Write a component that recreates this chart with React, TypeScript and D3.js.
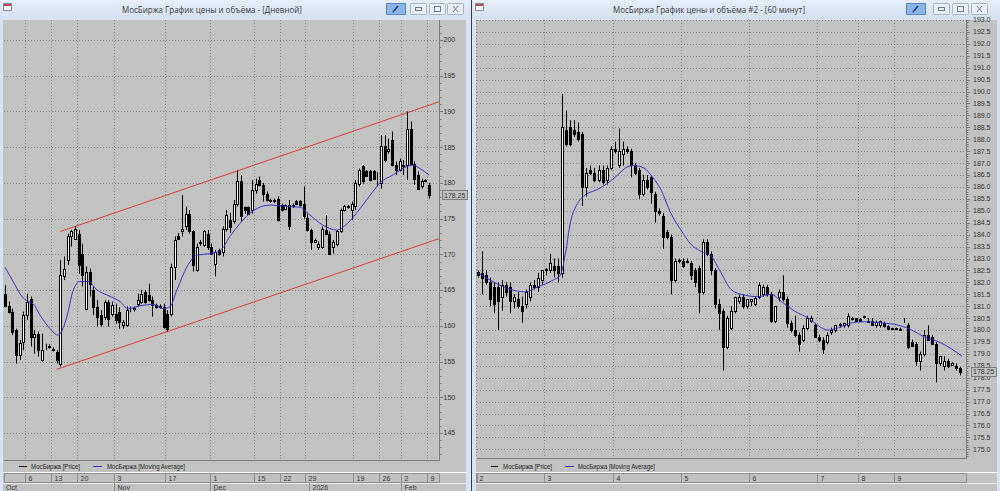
import React from 'react';
import * as d3 from 'd3';

type OHLC = [number, number, number, number];

const leftTitle = 'МосБиржа График цены и объёма - [Дневной]';
const rightTitle = 'МосБиржа График цены и объёма #2 - [60 минут]';
const legendPrice = 'МосБиржа [Price]';
const legendMA = 'МосБиржа [Moving Average]';
const lastPrice = 178.25;
const lastPriceLabel = '178.25';

// Daily candles [open, high, low, close]
const dailyCandles: OHLC[] = [
  [164.4, 165.7, 162.6, 162.8], [162.8, 163.4, 161.7, 162.0], [162.0, 162.4, 158.7, 159.2], [159.4, 159.6, 154.7, 155.9],
  [155.9, 158.0, 155.2, 157.6], [157.8, 162.0, 156.6, 161.5], [161.5, 164.5, 160.8, 163.4], [163.8, 164.1, 157.1, 158.5],
  [158.5, 159.4, 156.1, 158.9], [158.9, 159.2, 155.7, 156.6], [155.2, 158.9, 155.0, 156.6], [157.0, 157.5, 156.6, 157.1],
  [157.0, 157.4, 156.8, 157.2], [156.8, 157.0, 156.4, 156.6], [156.4, 156.6, 154.7, 155.2], [154.7, 169.2, 154.3, 167.1],
  [167.0, 169.7, 166.4, 167.9], [169.2, 172.9, 168.5, 172.5], [172.5, 173.4, 171.1, 173.2], [172.2, 173.9, 172.0, 173.5],
  [172.9, 173.4, 167.3, 168.5], [170.1, 171.5, 165.5, 167.1], [162.4, 168.3, 162.2, 167.6], [167.6, 168.0, 164.1, 165.9],
  [165.0, 165.5, 161.5, 162.7], [162.7, 163.6, 159.9, 161.3], [161.5, 162.2, 159.9, 160.3], [161.3, 163.6, 160.8, 163.4],
  [163.4, 163.6, 159.9, 161.0], [161.7, 163.4, 161.3, 162.9], [161.7, 163.1, 160.3, 160.8], [162.0, 162.6, 159.6, 160.6],
  [160.1, 160.8, 159.6, 160.6], [160.1, 162.7, 159.9, 162.2], [162.3, 162.7, 161.9, 162.4], [162.3, 162.7, 162.0, 162.5],
  [163.1, 164.5, 162.7, 163.6], [163.4, 165.0, 163.1, 164.5], [164.8, 165.0, 163.1, 163.4], [164.3, 165.9, 163.4, 163.6],
  [163.6, 164.1, 161.3, 162.9], [162.9, 163.1, 162.4, 162.7], [162.8, 163.0, 162.4, 162.6], [162.7, 163.1, 159.6, 159.9],
  [161.7, 162.2, 159.2, 159.6], [161.7, 168.7, 161.3, 168.3], [168.3, 172.5, 166.4, 172.0], [172.5, 173.0, 172.0, 172.2],
  [173.2, 178.3, 172.5, 173.6], [173.9, 176.7, 173.4, 175.7], [175.7, 176.2, 172.9, 173.2], [173.2, 173.4, 167.6, 168.5],
  [167.8, 171.5, 167.6, 171.1], [171.6, 172.0, 171.2, 171.8], [171.3, 173.4, 171.1, 173.2], [172.9, 173.4, 170.6, 171.1],
  [171.1, 171.5, 169.9, 170.1], [168.7, 170.6, 166.9, 170.4], [170.6, 170.8, 169.8, 170.1], [170.4, 173.9, 169.7, 173.6],
  [173.6, 176.2, 173.2, 175.5], [174.8, 175.8, 173.0, 173.8], [174.6, 177.6, 174.3, 177.1], [177.1, 181.8, 176.7, 180.2],
  [180.2, 181.1, 174.6, 175.3], [176.6, 176.7, 175.7, 176.2], [176.6, 176.7, 175.5, 175.7], [176.2, 180.4, 175.7, 179.0],
  [179.0, 180.6, 178.5, 179.9], [180.4, 180.9, 179.5, 179.7], [179.7, 180.0, 177.4, 178.5], [178.5, 178.8, 177.4, 177.6],
  [177.6, 177.8, 177.2, 177.4], [177.6, 177.8, 177.2, 177.4], [177.8, 178.1, 174.6, 174.8], [176.9, 177.1, 176.0, 176.2],
  [176.4, 177.0, 176.2, 176.9], [176.9, 177.6, 173.4, 173.9], [176.9, 177.1, 176.5, 176.7], [177.4, 177.6, 177.0, 177.1],
  [177.4, 177.6, 176.7, 176.9], [177.1, 179.5, 175.0, 175.3], [175.1, 175.7, 173.2, 173.4], [173.4, 173.6, 170.6, 171.8],
  [171.8, 172.2, 171.6, 172.0], [171.1, 171.8, 170.6, 171.5], [171.1, 173.9, 170.8, 173.6], [173.4, 175.5, 172.7, 172.9],
  [172.9, 173.2, 169.9, 170.1], [171.1, 172.0, 170.1, 171.8], [171.5, 173.4, 171.1, 173.2], [173.2, 176.4, 173.0, 176.2],
  [176.2, 176.9, 176.0, 176.7], [176.6, 176.9, 176.4, 176.8], [176.2, 177.4, 174.8, 177.1], [176.7, 180.4, 176.2, 180.0],
  [179.9, 182.0, 179.5, 181.8], [182.3, 182.5, 179.9, 180.2], [181.6, 181.8, 180.8, 180.9], [181.6, 181.8, 180.2, 180.4],
  [181.6, 181.8, 180.4, 180.6], [181.0, 181.5, 179.5, 180.9], [180.0, 186.7, 179.2, 185.1], [185.1, 186.7, 182.9, 183.2],
  [184.4, 186.2, 184.1, 184.8], [186.0, 187.2, 182.3, 182.5], [182.5, 183.0, 181.1, 181.8], [181.8, 183.4, 181.6, 183.0],
  [182.5, 183.2, 181.1, 182.3], [182.5, 190.0, 180.4, 187.6], [187.6, 188.6, 182.5, 182.7], [182.7, 183.0, 179.7, 180.6],
  [181.1, 181.6, 179.2, 179.2], [179.5, 180.6, 179.2, 180.2], [180.4, 180.5, 180.1, 180.2], [179.7, 180.0, 177.8, 178.25],
];

// Daily moving average: [candle index, value]
const dailyMA: [number, number][] = [
  [0, 168.2], [2, 166.4], [4.6, 164.1], [6.2, 163.4], [7.6, 163.1], [9.5, 161.5], [12.2, 159.6], [14.4, 158.7],
  [16.8, 161.3], [18.4, 164.8], [20.3, 166.2], [22.5, 166.2], [25, 165.0], [27.7, 164.3], [31.2, 163.4], [33.4, 162.4],
  [36.6, 162.8], [40.1, 163.0], [42.9, 162.4], [44.8, 162.7], [46.6, 165.0], [49.4, 168.3], [52.1, 169.9], [55.6, 170.1],
  [58.3, 170.5], [61, 172.5], [63.7, 174.3], [67.3, 176.1], [71.9, 176.9], [76.5, 176.7], [80, 176.6], [82.7, 175.5],
  [86.2, 174.1], [90, 173.4], [92.8, 174.3], [96.3, 176.4], [99.8, 178.8], [101.7, 180.0], [105.2, 181.1], [109, 182.3],
  [110.7, 182.5], [112.6, 182.0], [115, 181.1],
];

const dailyChannelUpper: [number, number][] = [[15, 173.2], [118, 191.4]];
const dailyChannelLower: [number, number][] = [[14, 153.9], [118, 172.25]];

const dailyYTicks = [145, 150, 155, 160, 165, 170, 175, 180, 185, 190, 195, 200];
const dailyWeekLabels = ['6', '13', '20', '3', '17', '1', '15', '22', '29', '19', '26', '2', '9'];
const dailyWeekIndex = [6, 13, 20, 30, 44, 56, 68, 75, 82, 95, 102, 108, 115];
const dailyMonthLabels = ['Oct', 'Nov', 'Dec', '2026', 'Feb'];
const dailyMonthIndex = [0, 30, 56, 83, 108];

// Hourly candles [open, high, low, close]
const hourlyCandles: OHLC[] = [
  [182.45, 182.5, 182.2, 182.3], [182.4, 183.3, 181.5, 182.2], [182.3, 182.5, 181.9, 182.0], [182.0, 182.2, 181.0, 181.3],
  [181.8, 182.0, 180.7, 181.1], [181.8, 182.0, 180.0, 181.2], [181.4, 182.1, 180.8, 181.9], [181.9, 182.0, 181.4, 181.6],
  [181.8, 182.0, 180.7, 181.2], [181.2, 181.5, 180.9, 181.4], [181.3, 181.6, 180.9, 181.0], [181.0, 181.4, 180.3, 180.8],
  [181.1, 181.7, 180.9, 181.6], [181.4, 182.0, 181.2, 181.9], [181.9, 182.1, 181.7, 181.8], [181.8, 182.4, 181.6, 182.2],
  [182.1, 182.5, 181.9, 182.5], [182.5, 182.6, 182.3, 182.55], [182.5, 183.2, 182.4, 182.8], [182.7, 183.0, 182.2, 182.5],
  [182.7, 183.0, 182.0, 182.4], [182.4, 189.9, 182.2, 188.5], [188.4, 189.2, 187.7, 187.8], [188.5, 188.8, 187.7, 187.8],
  [188.4, 188.8, 188.1, 188.2], [188.3, 188.7, 187.9, 188.0], [188.2, 188.3, 185.2, 186.0], [186.0, 186.8, 185.6, 186.6],
  [186.7, 186.9, 186.5, 186.6], [186.6, 186.8, 186.2, 186.3], [186.3, 186.9, 186.2, 186.7], [186.7, 186.9, 186.1, 186.2],
  [186.3, 186.9, 186.1, 186.8], [186.8, 187.7, 186.7, 187.6], [187.6, 187.9, 187.4, 187.5], [186.9, 188.45, 186.8, 187.5],
  [187.4, 187.9, 186.9, 187.6], [187.6, 187.7, 187.4, 187.5], [187.5, 187.6, 186.4, 186.9], [186.9, 187.0, 186.5, 186.6],
  [186.7, 186.8, 185.5, 185.7], [185.7, 186.5, 185.6, 186.3], [186.3, 186.5, 185.9, 186.0], [186.4, 186.5, 185.3, 185.8],
  [185.7, 185.8, 184.5, 185.0], [185.0, 185.1, 184.8, 184.9], [184.8, 184.9, 183.4, 183.9], [184.1, 184.2, 183.8, 183.9],
  [183.9, 184.0, 181.5, 182.1], [182.1, 183.0, 182.0, 182.9], [182.9, 183.0, 182.8, 182.95], [182.9, 183.0, 182.6, 182.7],
  [182.9, 183.0, 182.8, 182.85], [182.8, 182.9, 182.1, 182.3], [182.5, 182.6, 181.8, 182.0], [182.6, 182.7, 180.7, 181.6],
  [181.6, 183.8, 181.5, 183.7], [183.7, 183.8, 183.1, 183.2], [183.2, 183.3, 182.3, 182.5], [182.5, 182.6, 180.9, 181.1],
  [181.1, 181.3, 180.0, 180.7], [180.8, 180.9, 178.3, 179.3], [179.3, 180.6, 179.2, 180.5], [180.1, 181.0, 180.0, 180.8],
  [180.8, 181.4, 180.7, 181.4], [181.2, 181.5, 181.1, 181.4], [181.4, 181.5, 180.9, 181.0], [181.0, 181.3, 180.9, 181.3],
  [181.2, 181.3, 181.0, 181.3], [181.1, 181.4, 181.0, 181.35], [181.4, 182.0, 181.3, 181.9], [181.5, 181.9, 181.4, 181.8],
  [181.8, 181.9, 181.4, 181.5], [181.5, 181.6, 180.3, 180.4], [180.4, 181.0, 180.3, 181.0], [181.4, 181.7, 181.2, 181.6],
  [181.6, 182.3, 181.2, 181.3], [181.3, 181.4, 180.1, 180.3], [180.3, 180.4, 179.9, 180.0], [180.0, 180.6, 179.7, 179.8],
  [179.8, 179.9, 179.1, 179.4], [179.6, 180.2, 179.5, 180.1], [180.1, 180.6, 180.0, 180.5], [180.4, 180.6, 180.3, 180.5],
  [180.2, 180.3, 179.7, 179.7], [179.7, 179.8, 179.5, 179.6], [179.6, 179.7, 179.0, 179.2], [179.5, 179.9, 179.4, 179.8],
  [179.9, 180.1, 179.8, 180.0], [180.0, 180.2, 179.9, 180.2], [180.2, 180.3, 180.1, 180.25], [180.2, 180.3, 180.1, 180.3],
  [180.2, 180.7, 180.1, 180.6], [180.5, 180.55, 180.4, 180.45], [180.5, 180.5, 180.4, 180.4], [180.45, 180.5, 180.35, 180.4],
  [180.6, 180.6, 180.5, 180.55], [180.4, 180.5, 180.3, 180.35], [180.4, 180.5, 180.2, 180.2], [180.2, 180.4, 180.1, 180.35],
  [180.2, 180.4, 180.1, 180.4], [180.3, 180.35, 180.1, 180.15], [180.15, 180.2, 180.0, 180.05], [180.1, 180.1, 180.0, 180.05],
  [180.1, 180.1, 180.0, 180.05], [180.0, 180.1, 180.0, 180.05], [180.45, 180.5, 180.3, 180.45], [180.2, 180.3, 179.2, 179.3],
  [179.5, 179.6, 179.3, 179.35], [179.4, 179.5, 178.5, 178.7], [178.7, 179.1, 178.3, 179.0], [179.0, 180.0, 178.9, 179.8],
  [179.8, 180.2, 179.6, 179.6], [179.7, 179.8, 179.4, 179.4], [179.4, 179.5, 177.8, 178.6], [178.6, 178.9, 178.5, 178.9],
  [178.5, 178.9, 178.3, 178.7], [178.7, 178.8, 178.4, 178.5], [178.55, 178.65, 178.5, 178.6], [178.5, 178.6, 178.3, 178.4],
  [178.4, 178.45, 178.1, 178.25],
];

const hourlyMA: [number, number][] = [
  [0, 182.4], [3, 182.1], [7.25, 181.75], [11.75, 181.6], [14.75, 181.8], [18.75, 182.1], [20.5, 182.3], [21.75, 183.2],
  [23, 184.5], [24.75, 185.3], [26.25, 185.6], [29.75, 185.9], [32.25, 186.15], [34.75, 186.5], [37.25, 186.85],
  [38.75, 186.9], [41.25, 186.8], [43.5, 186.4], [45.5, 185.9], [48, 184.9], [50.5, 184.2], [53, 183.6], [55.5, 183.3],
  [58, 183.1], [60.5, 182.4], [63, 181.7], [65.5, 181.5], [69.75, 181.4], [73, 181.5], [75.5, 181.2], [78.75, 180.8],
  [82.25, 180.5], [85.5, 180.1], [87.25, 180.0], [89.75, 180.1], [93, 180.3], [96.25, 180.35], [100.5, 180.3],
  [104.75, 180.2], [108, 180.0], [111.25, 179.7], [114.75, 179.5], [118, 179.2], [120.5, 178.9],
];

const hourlyYTicks = [
  175.0, 175.5, 176.0, 176.5, 177.0, 177.5, 178.0, 178.5, 179.0, 179.5, 180.0, 180.5, 181.0, 181.5, 182.0, 182.5,
  183.0, 183.5, 184.0, 184.5, 185.0, 185.5, 186.0, 186.5, 187.0, 187.5, 188.0, 188.5, 189.0, 189.5, 190.0, 190.5,
  191.0, 191.5, 192.0, 192.5, 193.0,
];
const hourlyDayLabels = ['2', '3', '4', '5', '6', '7', '8', '9'];
const hourlyDayIndex = [0, 17, 34, 51, 68, 85, 95, 104];

const FRAME = '#d7e4f3';
const PANEL = '#c2c2c2';
const GRID = '#858585';
const AXIS = '#7a7a7a';
const SMALL_FONT = 'Liberation Sans, Arial, sans-serif';
const TITLE_FONT = 'Open Sans, Noto Sans, sans-serif';

function renderCandles(data: OHLC[], x: d3.ScaleLinear<number, number>, y: d3.ScaleLinear<number, number>, key: string) {
  return data.map(([o, h, l, c], i) => {
    const px = Math.round(x(i));
    const up = c >= o;
    const yt = Math.round(y(Math.max(o, c)));
    const yb = Math.round(y(Math.min(o, c)));
    return (
      <g key={key + i}>
        <line x1={px + 0.5} x2={px + 0.5} y1={y(h)} y2={y(l)} stroke="#000" strokeWidth={1} />
        <rect x={px - 0.5} y={yt + 0.5} width={2} height={Math.max(0, yb - yt)} fill={up ? '#fff' : '#000'} stroke="#000" strokeWidth={1} />
      </g>
    );
  });
}

function TitleBar({ x0, x1, title, textX, textW, pinX, btnX }: { x0: number; x1: number; title: string; textX: number; textW: number; pinX: number; btnX: number[] }) {
  return (
    <g>
      <rect x={x0} y={0} width={x1 - x0} height={19} fill="url(#tb)" />
      <rect x={x0 + 3.5} y={3.5} width={8} height={7} fill="#f4f4f4" stroke="#8a8fa0" />
      <rect x={x0 + 4} y={4} width={7} height={2} fill="#c04848" />
      <text x={textX} y={12.5} fontFamily={TITLE_FONT} fontSize={8.6} fill="#3a3a3a" textLength={textW} lengthAdjust="spacingAndGlyphs">{title}</text>
      <rect x={pinX + 0.5} y={3.5} width={19} height={11} fill="#8db5ea" stroke="#5b86c6" />
      <line x1={pinX + 7} y1={12} x2={pinX + 12} y2={6} stroke="#1f3f7a" strokeWidth={1.6} />
      {btnX.map((bx, k) => (
        <g key={k}>
          <rect x={bx + 0.5} y={3.5} width={16} height={11} fill="#e9eff7" stroke="#a4b4c8" rx={1} />
          {k === 0 && <rect x={bx + 5.5} y={7.5} width={6} height={3} fill="none" stroke="#6a7890" />}
          {k === 1 && <rect x={bx + 5.5} y={6.5} width={6} height={5} fill="none" stroke="#6a7890" />}
          {k === 2 && <path d={`M${bx + 6},${6} L${bx + 11},${12} M${bx + 11},${6} L${bx + 6},${12}`} stroke="#6a7890" />}
        </g>
      ))}
    </g>
  );
}

export default function App() {
  // ---------- left (daily) ----------
  const L = { x0: 4, x1: 439, y0: 20, y1: 460 };
  const xL = d3.scaleLinear().domain([0, dailyCandles.length - 1]).range([5, 429]);
  const yL = d3.scaleLinear().domain([141.22, 202.8]).range([L.y1, L.y0]);
  const stepL = xL(1) - xL(0);
  const sepL = (i: number) => Math.round(xL(i) - stepL / 2) + 0.5;

  // ---------- right (hourly) ----------
  const R = { x0: 477, x1: 966, y0: 20, y1: 458 };
  const xR = d3.scaleLinear().domain([0, hourlyCandles.length - 1]).range([478, 960]);
  const yR = d3.scaleLinear().domain([193 - (R.y1 - R.y0) / 23.85, 193]).range([R.y1, R.y0]);
  const stepR = xR(1) - xR(0);
  const sepR = (i: number) => Math.round(xR(i) - stepR / 2) + 0.5;

  const maLine = (xs: d3.ScaleLinear<number, number>, ys: d3.ScaleLinear<number, number>) =>
    d3.line<[number, number]>().x(d => xs(d[0])).y(d => ys(d[1])).curve(d3.curveMonotoneX);

  const lineL = maLine(xL, yL);
  const lineR = maLine(xR, yR);

  const minorL = d3.range(Math.ceil(yL.domain()[0]), Math.floor(yL.domain()[1]) + 1, 1);
  const minorR = d3.range(Math.ceil(yR.domain()[0] * 10), Math.floor(yR.domain()[1] * 10) + 1, 1).map(v => v / 10);

  return (
    <svg width={1000} height={491} style={{ position: 'absolute', left: 0, top: 0, display: 'block' }}>
      <defs>
        <linearGradient id="tb" x1="0" y1="0" x2="0" y2="1">
          <stop offset="0" stopColor="#e6eef9" />
          <stop offset="1" stopColor="#d3e1f2" />
        </linearGradient>
        <clipPath id="clipL"><rect x={L.x0} y={L.y0} width={L.x1 - L.x0} height={L.y1 - L.y0} /></clipPath>
        <clipPath id="clipR"><rect x={R.x0} y={R.y0} width={R.x1 - R.x0} height={R.y1 - R.y0} /></clipPath>
      </defs>

      <rect x={0} y={0} width={1000} height={491} fill={FRAME} />
      <line x1={471.5} x2={471.5} y1={0} y2={491} stroke="#3c3c3c" />
      <TitleBar x0={0} x1={471} title={leftTitle} textX={122} textW={180} pinX={386} btnX={[410, 429, 447]} />
      <TitleBar x0={472} x1={1000} title={rightTitle} textX={613} textW={192} pinX={906} btnX={[933, 952, 971]} />

      {/* ================= LEFT PANEL ================= */}
      <rect x={3} y={19} width={463} height={472} fill={PANEL} />
      <line x1={3} x2={466} y1={19.5} y2={19.5} stroke="#e2e2e2" />
      {dailyYTicks.map(t => (
        <line key={'gyl' + t} x1={L.x0} x2={L.x1} y1={Math.round(yL(t)) + 0.5} y2={Math.round(yL(t)) + 0.5} stroke={GRID} strokeDasharray="1,2" />
      ))}
      {dailyWeekIndex.map((i, k) => (
        <line key={'gxl' + k} x1={sepL(i)} x2={sepL(i)} y1={L.y0} y2={L.y1} stroke={GRID} strokeDasharray="1,2" />
      ))}
      <line x1={L.x1 + 0.5} x2={L.x1 + 0.5} y1={L.y0} y2={L.y1} stroke={AXIS} />
      <line x1={L.x0} x2={L.x1 + 1} y1={L.y1 + 0.5} y2={L.y1 + 0.5} stroke={AXIS} />
      {minorL.map(t => (
        <line key={'mnl' + t} x1={L.x1 + 1} x2={L.x1 + 2.5} y1={Math.round(yL(t)) + 0.5} y2={Math.round(yL(t)) + 0.5} stroke={AXIS} />
      ))}
      {dailyYTicks.map(t => (
        <g key={'yl' + t}>
          <line x1={L.x1 + 1} x2={L.x1 + 4} y1={Math.round(yL(t)) + 0.5} y2={Math.round(yL(t)) + 0.5} stroke={AXIS} />
          <text x={L.x1 + 4.5} y={yL(t) + 2.4} fontFamily={SMALL_FONT} fontSize={7} fill="#333">{t}</text>
        </g>
      ))}
      <g clipPath="url(#clipL)">
        <line x1={xL(dailyChannelUpper[0][0])} y1={yL(dailyChannelUpper[0][1])} x2={xL(dailyChannelUpper[1][0])} y2={yL(dailyChannelUpper[1][1])} stroke="#e23b3b" strokeWidth={1} />
        <line x1={xL(dailyChannelLower[0][0])} y1={yL(dailyChannelLower[0][1])} x2={xL(dailyChannelLower[1][0])} y2={yL(dailyChannelLower[1][1])} stroke="#e23b3b" strokeWidth={1} />
        {renderCandles(dailyCandles, xL, yL, 'dl')}
        <path d={lineL(dailyMA) || ''} fill="none" stroke="#3535c8" strokeWidth={1} />
      </g>
      <rect x={L.x1 + 3.5} y={Math.round(yL(lastPrice)) - 4.5} width={25} height={9} fill={PANEL} stroke="#7d7d7d" />
      <text x={L.x1 + 5} y={yL(lastPrice) + 2.4} fontFamily={SMALL_FONT} fontSize={7} fill="#333">{lastPriceLabel}</text>
      <line x1={19} x2={27} y1={466.5} y2={466.5} stroke="#000" />
      <text x={31} y={469} fontFamily={SMALL_FONT} fontSize={6.5} fill="#222" textLength={49} lengthAdjust="spacingAndGlyphs">{legendPrice}</text>
      <line x1={93} x2={102} y1={466.5} y2={466.5} stroke="#3535c8" />
      <text x={107} y={469} fontFamily={SMALL_FONT} fontSize={6.5} fill="#222" textLength={78} lengthAdjust="spacingAndGlyphs">{legendMA}</text>
      <line x1={3} x2={466} y1={472.5} y2={472.5} stroke="#ffffff" />
      <rect x={4.5} y={473.5} width={L.x1 - 4} height={9} fill="none" stroke="#8d8d8d" />
      {dailyWeekIndex.map((i, k) => (
        <g key={'wl' + k}>
          <line x1={sepL(i)} x2={sepL(i)} y1={473} y2={483} stroke="#8d8d8d" />
          <text x={sepL(i) + 3} y={480.5} fontFamily={SMALL_FONT} fontSize={7} fill="#333">{dailyWeekLabels[k]}</text>
        </g>
      ))}
      <line x1={3} x2={466} y1={483.5} y2={483.5} stroke="#e8e8e8" />
      {dailyMonthIndex.map((i, k) => (
        <g key={'ml' + k}>
          {i > 0 && <line x1={sepL(i)} x2={sepL(i)} y1={483} y2={491} stroke="#8d8d8d" />}
          <text x={i > 0 ? sepL(i) + 3 : 6} y={489.5} fontFamily={SMALL_FONT} fontSize={7} fill="#333">{dailyMonthLabels[k]}</text>
        </g>
      ))}

      {/* ================= RIGHT PANEL ================= */}
      <rect x={476} y={19} width={521} height={472} fill={PANEL} />
      <line x1={476} x2={997} y1={19.5} y2={19.5} stroke="#e2e2e2" />
      {hourlyYTicks.map(t => (
        <line key={'gyr' + t} x1={R.x0} x2={R.x1} y1={Math.round(yR(t)) + 0.5} y2={Math.round(yR(t)) + 0.5} stroke={GRID} strokeDasharray="1,2" />
      ))}
      {hourlyDayIndex.map((i, k) => (
        <line key={'gxr' + k} x1={sepR(i)} x2={sepR(i)} y1={R.y0} y2={R.y1} stroke={GRID} strokeDasharray="1,2" />
      ))}
      <line x1={R.x1 + 0.5} x2={R.x1 + 0.5} y1={R.y0} y2={R.y1} stroke={AXIS} />
      <line x1={R.x0} x2={R.x1 + 1} y1={R.y1 + 0.5} y2={R.y1 + 0.5} stroke={AXIS} />
      {minorR.map(t => (
        <line key={'mnr' + t} x1={R.x1 + 1} x2={R.x1 + 2.5} y1={Math.round(yR(t)) + 0.5} y2={Math.round(yR(t)) + 0.5} stroke={AXIS} />
      ))}
      {hourlyYTicks.map(t => (
        <g key={'yr' + t}>
          <line x1={R.x1 + 1} x2={R.x1 + 4} y1={Math.round(yR(t)) + 0.5} y2={Math.round(yR(t)) + 0.5} stroke={AXIS} />
          <text x={R.x1 + 7} y={yR(t) + 2.4} fontFamily={SMALL_FONT} fontSize={7} fill="#333">{t.toFixed(1)}</text>
        </g>
      ))}
      <g clipPath="url(#clipR)">
        {renderCandles(hourlyCandles, xR, yR, 'hr')}
        <path d={lineR(hourlyMA) || ''} fill="none" stroke="#3535c8" strokeWidth={1} />
      </g>
      <rect x={R.x1 + 5.5} y={Math.round(yR(lastPrice)) - 4.5} width={25} height={9} fill={PANEL} stroke="#7d7d7d" />
      <text x={R.x1 + 7} y={yR(lastPrice) + 2.4} fontFamily={SMALL_FONT} fontSize={7} fill="#333">{lastPriceLabel}</text>
      <line x1={491} x2={498} y1={466.5} y2={466.5} stroke="#000" />
      <text x={503} y={469} fontFamily={SMALL_FONT} fontSize={6.5} fill="#222" textLength={49} lengthAdjust="spacingAndGlyphs">{legendPrice}</text>
      <line x1={565} x2={574} y1={466.5} y2={466.5} stroke="#3535c8" />
      <text x={578} y={469} fontFamily={SMALL_FONT} fontSize={6.5} fill="#222" textLength={77} lengthAdjust="spacingAndGlyphs">{legendMA}</text>
      <line x1={476} x2={997} y1={472.5} y2={472.5} stroke="#ffffff" />
      <rect x={477.5} y={473.5} width={R.x1 - 477} height={9} fill="none" stroke="#8d8d8d" />
      {hourlyDayIndex.map((i, k) => (
        <g key={'dr' + k}>
          <line x1={sepR(i)} x2={sepR(i)} y1={473} y2={483} stroke="#8d8d8d" />
          <text x={sepR(i) + 3} y={480.5} fontFamily={SMALL_FONT} fontSize={7} fill="#333">{hourlyDayLabels[k]}</text>
        </g>
      ))}
      <line x1={476} x2={997} y1={483.5} y2={483.5} stroke="#e8e8e8" />
    </svg>
  );
}
